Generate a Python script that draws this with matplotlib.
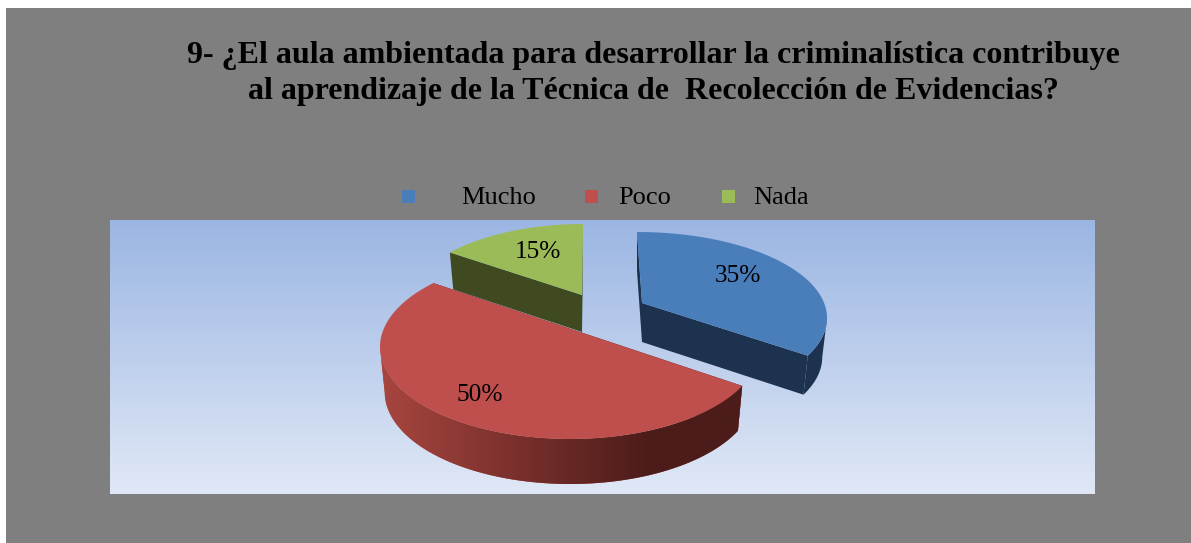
import numpy as np
import matplotlib
matplotlib.use("Agg")
import matplotlib.pyplot as plt
from matplotlib.patches import Polygon, Rectangle
from matplotlib.colors import to_rgb

categories = ["Mucho", "Poco", "Nada"]
values = [35, 50, 15]
title_lines = ["9- ¿El aula ambientada para desarrollar la criminalística contribuye",
               "al aprendizaje de la Técnica de  Recolección de Evidencias?"]

top_colors = ["#4a7ebb", "#be4f4c", "#9bbb59"]
side_colors = ["#1c324e", "#a8453f", "#3f4a20"]
apex = [(642, 303), (586, 334), (582, 295)]
centers = [(637, 318), (570, 347), (583, 311)]
axes_a = [190, 190, 180]
axes_b = [86, 92, 87]
depth = [39, 45, 37]
start_angles = [90, -25, 137.7]
span_scale = [116 / 126, 199 / 180, 47.7 / 54]
bottom_shrink = 0.975

plt.rcParams['font.family'] = ['Liberation Serif', 'DejaVu Serif']
W, H = 1191, 543
fig = plt.figure(figsize=(W / 100, H / 100), dpi=100, facecolor="white")
ax = fig.add_axes([0, 0, 1, 1])
ax.axis("off")

ax.add_patch(Rectangle((6, 8), W - 6, H - 8, fc="#7f7f7f", ec="none", zorder=0))
c0, c1 = np.array(to_rgb("#9bb6e3")), np.array(to_rgb("#e0e8f6"))
grad = np.linspace(0, 1, 256)[:, None, None] * (c1 - c0) + c0
ax.imshow(grad, extent=(110, 1095, 494, 220), aspect="auto", zorder=1, interpolation="bilinear")

for i in [2, 0, 1]:
    span = values[i] * 3.6 * span_scale[i]
    t = np.radians(np.linspace(start_angles[i], start_angles[i] - span, 400))
    cx, cy = centers[i]
    x = cx + axes_a[i] * np.cos(t)
    y = cy - axes_b[i] * np.sin(t)
    d = depth[i]
    xb = cx + (x - cx) * bottom_shrink
    yb = y + d
    for e in (0, -1):
        ax.add_patch(Polygon([apex[i], (x[e], y[e]), (xb[e], yb[e]), (apex[i][0], apex[i][1] + d)],
                             fc="#4c1c1a" if i == 1 else side_colors[i], ec="none", zorder=3))
    front = np.sin(t) <= 0
    if front.sum() > 1:
        side = Polygon(np.vstack([np.c_[x[front], y[front]], np.c_[xb[front], yb[front]][::-1]]),
                       fc=side_colors[i], ec="none", zorder=3)
        ax.add_patch(side)
        if i == 1:
            ramp = np.clip((np.linspace(378, 745, 256) - 380) / (650 - 380), 0, 1)[None, :, None]
            a0, a1 = np.array(to_rgb(side_colors[i])), np.array(to_rgb("#4c1c1a"))
            img = ax.imshow(a0 + ramp * (a1 - a0), extent=(378, 745, 490, 330), aspect="auto", zorder=3.5)
            img.set_clip_path(side)
    ax.add_patch(Polygon(np.vstack([[apex[i]], np.c_[x, y]]), fc=top_colors[i], ec="none", zorder=4))

label_pos = [(738, 276), (480, 395), (538, 252)]
for v, p in zip(values, label_pos):
    ax.text(p[0], p[1], f"{v}%", ha="center", va="center", fontsize=18.3, color="black", zorder=5)

for line, yy in zip(title_lines, [56, 92]):
    ax.text(653.5, yy, line, ha="center", va="center", fontsize=23.05, fontweight="bold", color="black", zorder=5)

leg_sq = [408, 591, 728]
leg_tx = [461, 618, 753]
for n, c, sx, tx in zip(categories, top_colors, leg_sq, leg_tx):
    ax.add_patch(Rectangle((sx - 6, 190), 13, 13, fc=c, ec="none", zorder=5))
    ax.text(tx, 198, n, ha="left", va="center", fontsize=19, color="black", zorder=5)

ax.set_xlim(0, W)
ax.set_ylim(H, 0)
fig.savefig("out.png", dpi=100, facecolor="white")
